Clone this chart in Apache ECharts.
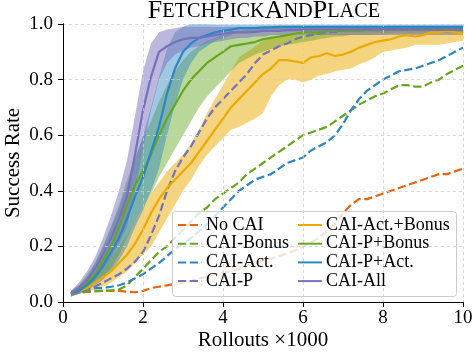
<!DOCTYPE html>
<html><head><meta charset="utf-8">
<script src="https://cdn.jsdelivr.net/npm/echarts@6/dist/echarts.min.js"></script>
<style>html,body{margin:0;padding:0;background:#fff}#c{width:472px;height:354px}</style>
</head><body><div id="c"></div>
<script>
// Rollouts (x1000)
const xs = [0.2,0.4,0.6,0.8,1.0,1.2,1.4,1.6,1.8,2.0,2.2,2.4,2.6,2.8,3.0,3.2,3.4,3.6,3.8,4.0,4.2,4.4,4.6,4.8,5.0,5.2,5.4,5.6,5.8,6.0,6.2,6.4,6.6,6.8,7.0,7.2,7.4,7.6,7.8,8.0,8.2,8.4,8.6,8.8,9.0,9.2,9.4,9.6,9.8,10.0];
const xTicks = [0,2,4,6,8,10];
const yTicks = [0.0,0.2,0.4,0.6,0.8,1.0];

const noCAI = [.03,.033,.036,.038,.04,.04,.04,.037,.035,.04,.05,.055,.06,.065,.07,.075,.085,.09,.10,.105,.11,.12,.13,.14,.15,.155,.165,.175,.185,.20,.215,.23,.255,.28,.32,.35,.37,.37,.38,.39,.40,.41,.42,.43,.44,.45,.46,.46,.47,.48];
const caiBonus = [.03,.035,.038,.04,.04,.042,.045,.06,.09,.12,.15,.18,.20,.23,.26,.29,.32,.34,.37,.39,.41,.43,.46,.48,.50,.52,.54,.56,.58,.60,.61,.62,.63,.65,.67,.69,.71,.725,.74,.75,.765,.78,.78,.775,.775,.79,.80,.82,.835,.85];
const caiAct = [.03,.04,.045,.05,.05,.055,.06,.07,.085,.10,.12,.14,.165,.19,.21,.23,.255,.28,.31,.34,.37,.40,.42,.44,.45,.46,.48,.50,.51,.52,.545,.56,.575,.60,.64,.69,.73,.76,.78,.80,.815,.83,.835,.84,.85,.86,.87,.885,.90,.915];
const caiP = [.03,.035,.045,.055,.07,.085,.10,.12,.145,.18,.24,.31,.40,.47,.52,.56,.61,.66,.70,.73,.76,.79,.82,.86,.89,.905,.92,.93,.945,.955,.96,.965,.97,.972,.975,.975,.978,.98,.98,.98,.98,.982,.982,.982,.983,.983,.984,.984,.985,.985];

const actBonus = [.03,.04,.05,.07,.09,.11,.14,.17,.21,.26,.32,.37,.41,.44,.47,.50,.54,.58,.62,.66,.70,.73,.76,.79,.82,.84,.87,.87,.865,.86,.88,.885,.895,.885,.89,.90,.915,.925,.935,.94,.945,.955,.96,.955,.96,.97,.97,.975,.97,.965];
const actBonusHi = [.04,.055,.07,.10,.13,.16,.20,.24,.29,.34,.39,.43,.47,.50,.53,.57,.62,.68,.73,.78,.83,.88,.90,.92,.94,.95,.955,.96,.96,.96,.965,.97,.975,.975,.98,.98,.985,.985,.99,.99,.99,.99,.99,.99,.99,.99,.99,.99,.99,.99];
const actBonusLo = [.02,.03,.035,.045,.055,.07,.09,.11,.14,.17,.20,.25,.30,.35,.40,.44,.49,.53,.56,.59,.62,.63,.645,.66,.68,.74,.78,.80,.80,.79,.80,.815,.82,.83,.835,.84,.855,.865,.88,.90,.905,.91,.915,.925,.925,.925,.925,.93,.935,.94];

const pBonus = [.03,.045,.07,.10,.15,.20,.27,.35,.42,.47,.53,.60,.66,.71,.76,.80,.83,.86,.88,.90,.92,.925,.93,.935,.945,.95,.955,.96,.965,.97,.97,.97,.975,.975,.975,.975,.975,.978,.978,.978,.98,.98,.98,.98,.98,.98,.98,.98,.98,.98];
const pBonusHi = [.04,.06,.10,.14,.20,.27,.35,.44,.52,.59,.65,.72,.78,.83,.87,.90,.92,.94,.95,.96,.97,.975,.98,.98,.985,.985,.99,.99,.99,.99,.99,.99,.99,.99,.99,.99,.99,.99,.99,.99,.99,.99,.99,.99,.99,.99,.99,.99,.99,.99];
const pBonusLo = [.02,.03,.045,.065,.09,.12,.17,.23,.29,.34,.39,.45,.50,.55,.60,.65,.70,.74,.77,.80,.83,.86,.875,.89,.90,.91,.92,.925,.93,.935,.94,.945,.95,.955,.955,.96,.96,.96,.962,.962,.965,.965,.965,.965,.965,.965,.965,.965,.965,.965];

const pAct = [.03,.04,.06,.09,.13,.18,.23,.30,.38,.45,.54,.63,.75,.84,.90,.93,.95,.96,.97,.975,.98,.985,.985,.985,.988,.988,.99,.99,.99,.99,.99,.99,.99,.99,.99,.99,.99,.99,.99,.99,.99,.99,.99,.99,.99,.99,.99,.99,.99,.99];
const pActHi = [.04,.06,.09,.14,.20,.27,.34,.42,.51,.60,.70,.81,.91,.97,.99,1,1,1,.998,.998,.998,.998,.998,.998,.998,.998,.998,.998,.998,.998,.998,.998,.998,.998,.998,.998,.998,.998,.998,.998,.998,.998,.998,.998,.998,.998,.998,.998,.998,.998];
const pActLo = [.02,.03,.04,.06,.08,.11,.15,.20,.27,.33,.40,.48,.60,.71,.80,.86,.90,.92,.94,.95,.96,.97,.972,.975,.978,.98,.98,.98,.98,.98,.98,.98,.98,.98,.98,.98,.98,.98,.98,.98,.98,.98,.98,.98,.98,.98,.98,.98,.98,.98];

const caiAll = [.03,.05,.08,.12,.17,.23,.30,.38,.53,.69,.81,.90,.92,.935,.945,.95,.95,.955,.96,.965,.97,.97,.97,.972,.975,.975,.975,.978,.978,.98,.98,.98,.98,.98,.98,.98,.98,.98,.98,.98,.98,.98,.98,.98,.98,.98,.98,.98,.98,.98];
const caiAllHi = [.04,.07,.11,.16,.23,.31,.40,.51,.67,.83,.93,.97,.98,.985,.99,.99,.99,.99,.99,.99,.99,.99,.99,.99,.99,.99,.99,.99,.99,.99,.99,.99,.99,.99,.99,.99,.99,.99,.99,.99,.99,.99,.99,.99,.99,.99,.99,.99,.99,.99];
const caiAllLo = [.02,.035,.05,.08,.12,.16,.21,.27,.40,.55,.69,.80,.86,.89,.905,.915,.92,.93,.935,.94,.945,.95,.95,.955,.955,.96,.96,.96,.96,.96,.96,.96,.96,.96,.96,.96,.96,.96,.96,.96,.96,.96,.96,.96,.96,.96,.96,.96,.96,.96];

const legendLeft = ['No CAI','CAI-Bonus','CAI-Act.','CAI-P'];
const legendRight = ['CAI-Act.+Bonus','CAI-P+Bonus','CAI-P+Act.','CAI-All'];

const C = {orange:'#e6640f', green:'#66a61e', blue:'#2c86c2', purple:'#7770bb', yellow:'#ecaa00'};
const BAND = {green:'rgba(102,166,30,0.45)', blue:'rgba(44,134,194,0.45)', purple:'rgba(119,112,187,0.5)', yellow:'rgba(236,170,0,0.5)'};
const FONT = 'Liberation Serif';

function pts(arr){ return xs.map((x,i)=>[x,arr[i]]); }

const series = [];
function band(key, hi, lo, fill){
  series.push({type:'custom', name:'_band_'+key, silent:true, z:1, animation:false,
    data:[[xs[0], lo[0]]], encode:{x:0, y:1},
    renderItem:function(params, api){
      const top = hi.map((v,i)=>api.coord([xs[i], v]));
      const bot = lo.map((v,i)=>api.coord([xs[i], v])).reverse();
      return {type:'polygon', shape:{points:top.concat(bot)}, style:{fill:fill}};
    }});
}
band('ab', actBonusHi, actBonusLo, BAND.yellow);
band('pb', pBonusHi, pBonusLo, BAND.green);
band('pa', pActHi, pActLo, BAND.blue);
band('all', caiAllHi, caiAllLo, BAND.purple);

function line(name, arr, color, dashed){
  series.push({type:'line', name:name, data:pts(arr), symbol:'none', z:2, animation:false,
    lineStyle:{color:color, width:2.2, type: dashed ? [8.2,3.6] : 'solid'}, itemStyle:{color:color}});
}
line('No CAI', noCAI, C.orange, true);
line('CAI-Bonus', caiBonus, C.green, true);
line('CAI-Act.', caiAct, C.blue, true);
line('CAI-P', caiP, C.purple, true);
line('CAI-Act.+Bonus', actBonus, C.yellow, false);
line('CAI-P+Bonus', pBonus, C.green, false);
line('CAI-P+Act.', pAct, C.blue, false);
line('CAI-All', caiAll, C.purple, false);

const legendCommon = {orient:'vertical', padding:0, itemGap:0.7, itemWidth:24, itemHeight:14, selectedMode:false,
  itemStyle:{color:'rgba(0,0,0,0)', borderColor:'rgba(0,0,0,0)', borderWidth:0, opacity:0},
  textStyle:{fontFamily:FONT, fontSize:18, color:'#000', padding:[0,0,0,-1]}, z:5};

const spine = {show:true, lineStyle:{color:'#000', width:1}};
const chart = echarts.init(document.getElementById('c'), null, {renderer:'canvas'});
chart.setOption({
  animation:false,
  backgroundColor:'#fff',
  grid:{left:63, right:9, top:24, bottom:52, show:false, containLabel:false, outerBoundsMode:'none'},
  xAxis:[{type:'value', min:0, max:10, interval:2, name:'Rollouts ×1000', nameLocation:'middle', nameGap:28,
    nameMoveOverlap:false,
    z:4, nameTextStyle:{fontFamily:FONT, fontSize:21, color:'#000'},
    axisLine:spine,
    axisTick:{show:true, length:5, lineStyle:{color:'#000'}},
    axisLabel:{fontFamily:FONT, fontSize:19, color:'#000', margin:7, formatter:v=>xTicks.includes(v)?String(v):''},
    splitLine:{show:true, lineStyle:{color:'#cfcfcf', type:[3,3], width:0.8}}},
    {type:'value', position:'top', min:0, max:10, z:4, axisLine:spine, axisTick:{show:false}, axisLabel:{show:false}, splitLine:{show:false}}],
  yAxis:[{type:'value', min:0, max:1, interval:0.2, name:'Success Rate', nameLocation:'middle', nameGap:39,
    nameMoveOverlap:false,
    z:4, nameTextStyle:{fontFamily:FONT, fontSize:21, color:'#000'},
    axisLine:spine,
    axisTick:{show:true, length:5, lineStyle:{color:'#000'}},
    axisLabel:{fontFamily:FONT, fontSize:19, color:'#000', margin:10, formatter:v=>v.toFixed(1)},
    splitLine:{show:true, lineStyle:{color:'#cfcfcf', type:[3,3], width:0.8}}},
    {type:'value', position:'right', min:0, max:1, z:4, axisLine:spine, axisTick:{show:false}, axisLabel:{show:false}, splitLine:{show:false}}],
  legend:[
    Object.assign({}, legendCommon, {left:177, top:216, data:legendLeft}),
    Object.assign({}, legendCommon, {left:297, top:216, data:legendRight})
  ],
  graphic:[
    {type:'rect', z:3, shape:{x:172.5, y:211.5, width:284, height:85, r:3},
      style:{fill:'rgba(255,255,255,0.8)', stroke:'#cccccc', lineWidth:1}},
    {type:'text', z:5, x:264, y:-1.5, style:{text:'{b|F}{s|ETCH}{b|P}{s|ICK}{b|A}{s|ND}{b|P}{s|LACE}',
      textAlign:'center', align:'center', textVerticalAlign:'top', verticalAlign:'top',
      rich:{b:{fontFamily:FONT, fontSize:26, fill:'#000', color:'#000'}, s:{fontFamily:FONT, fontSize:20.3, fill:'#000', color:'#000'}}}}
  ],
  series:series
});
</script></body></html>
